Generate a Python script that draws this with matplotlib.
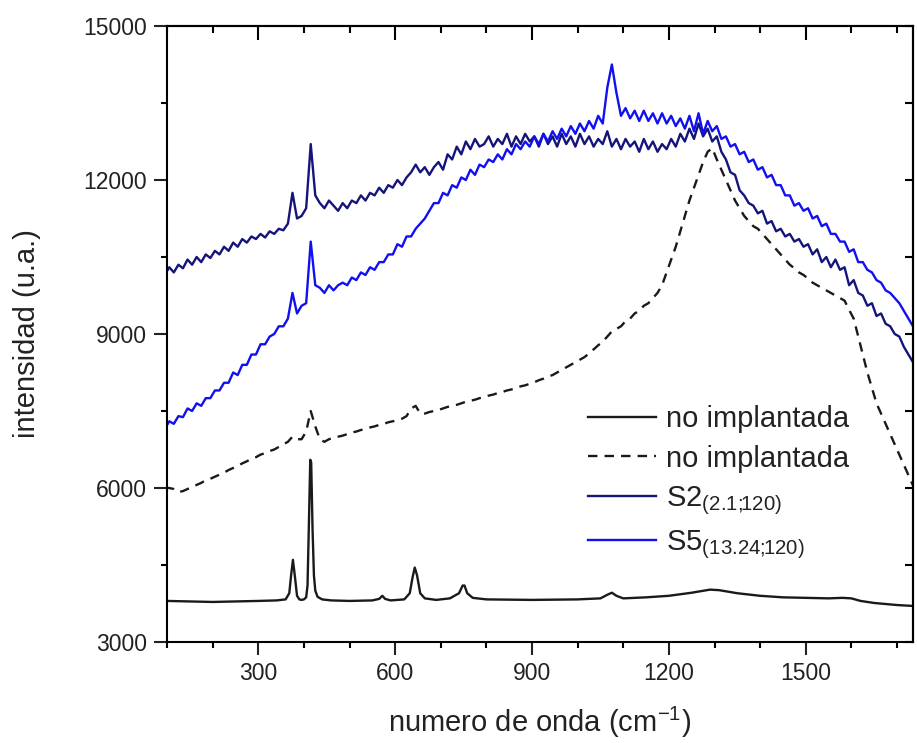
import numpy as np
import matplotlib
matplotlib.use("Agg")
import matplotlib.pyplot as plt
from matplotlib.ticker import MultipleLocator

plt.rcParams['font.family'] = ['Liberation Sans', 'DejaVu Sans']
plt.rcParams['mathtext.fontset'] = 'custom'
plt.rcParams['mathtext.rm'] = 'Liberation Sans'
plt.rcParams['mathtext.it'] = 'Liberation Sans'

# shared wavenumber grid for the noisy spectra (cm^-1)
wn = np.arange(95, 1746, 10)

s2 = [
    10150, 10300, 10200, 10350, 10280, 10450, 10350, 10500, 10400, 10550,
    10480, 10620, 10550, 10700, 10620, 10780, 10700, 10850, 10780, 10900,
    10850, 10950, 10880, 11000, 10950, 11050, 11020, 11150, 11750, 11250,
    11300, 11450, 12700, 11700, 11550, 11450, 11600, 11500, 11400, 11550,
    11450, 11600, 11550, 11700, 11600, 11750, 11700, 11850, 11750, 11900,
    11850, 12000, 11900, 12050, 12150, 12300, 12150, 12250, 12100, 12250,
    12350, 12200, 12500, 12400, 12650, 12500, 12750, 12600, 12800, 12650,
    12700, 12850, 12650, 12800, 12700, 12900, 12650, 12850, 12700, 12900,
    12750, 12850, 12650, 12900, 12700, 12850, 12650, 12900, 12700, 12850,
    12650, 12900, 12700, 12850, 12650, 12800, 12700, 12950, 12650, 12800,
    12600, 12800, 12650, 12750, 12550, 12800, 12600, 12750, 12550, 12700,
    12600, 12800, 12650, 12900, 12750, 13000, 12800, 13100, 12850, 13000,
    12750, 12850, 12550, 12400, 12150, 12100, 11800, 11700, 11550, 11500,
    11350, 11400, 11150, 11200, 11000, 11050, 10900, 10950, 10800, 10850,
    10700, 10750, 10550, 10650, 10400, 10500, 10300, 10450, 10250, 10300,
    9950, 10050, 9800, 9750, 9550, 9600, 9350, 9400, 9200, 9150,
    9000, 8950, 8750, 8600, 8450, 8350,
]

s5 = [
    7150, 7300, 7250, 7400, 7380, 7550, 7500, 7650, 7600, 7750,
    7750, 7900, 7900, 8050, 8050, 8250, 8200, 8400, 8400, 8600,
    8600, 8800, 8800, 8950, 9000, 9150, 9150, 9300, 9800, 9400,
    9550, 9600, 10800, 9950, 9900, 9800, 9950, 9850, 9950, 10000,
    9950, 10100, 10050, 10200, 10150, 10300, 10250, 10400, 10400, 10550,
    10550, 10750, 10700, 10900, 10900, 11050, 11150, 11250, 11400, 11550,
    11550, 11750, 11700, 11900, 11850, 12050, 12000, 12200, 12100, 12300,
    12250, 12400, 12350, 12500, 12400, 12600, 12500, 12700, 12600, 12750,
    12650, 12850, 12700, 12900, 12750, 12950, 12800, 13000, 12850, 13050,
    12900, 13100, 12950, 13150, 13000, 13250, 13100, 13800, 14250, 13700,
    13250, 13400, 13200, 13350, 13150, 13350, 13150, 13300, 13100, 13300,
    13100, 13250, 13050, 13200, 13000, 13250, 12950, 13300, 12900, 13150,
    12950, 13050, 12800, 12850, 12650, 12700, 12500, 12550, 12350, 12400,
    12200, 12250, 12050, 12100, 11900, 11900, 11700, 11700, 11500, 11550,
    11400, 11450, 11250, 11300, 11100, 11150, 10950, 10950, 10800, 10800,
    10600, 10650, 10400, 10400, 10250, 10200, 10050, 10000, 9850, 9800,
    9700, 9600, 9450, 9300, 9150, 9050,
]

ref_dashed = [
    6000, 6000, 5980, 5920, 5940, 5980, 6020, 6060, 6100, 6150,
    6180, 6220, 6260, 6300, 6350, 6390, 6430, 6480, 6520, 6570,
    6600, 6650, 6680, 6720, 6750, 6800, 6850, 6900, 7000, 6950,
    6950, 7100, 7500, 7200, 6950, 6900, 6950, 6980, 7000, 7020,
    7050, 7080, 7100, 7130, 7150, 7180, 7200, 7230, 7250, 7280,
    7300, 7320, 7350, 7400, 7550, 7600, 7450, 7450, 7480, 7500,
    7520, 7550, 7580, 7600, 7620, 7650, 7680, 7700, 7720, 7750,
    7770, 7800, 7820, 7850, 7870, 7900, 7920, 7950, 7980, 8000,
    8030, 8060, 8100, 8130, 8170, 8200, 8250, 8300, 8350, 8400,
    8450, 8500, 8550, 8620, 8700, 8780, 8850, 8950, 9050, 9100,
    9150, 9250, 9300, 9400, 9450, 9550, 9600, 9700, 9800, 9950,
    10200, 10450, 10700, 11000, 11300, 11600, 11850, 12100, 12350, 12550,
    12620, 12400, 12200, 12000, 11800, 11600, 11450, 11300, 11200, 11100,
    11050, 10950, 10850, 10750, 10650, 10550, 10450, 10350, 10280, 10200,
    10150, 10080, 10000, 9950, 9900, 9850, 9800, 9750, 9700, 9650,
    9470, 9300, 8950, 8600, 8250, 7950, 7650, 7450, 7250, 7050,
    6850, 6650, 6450, 6250, 6050, 5850,
]

ref_x = [100, 150, 200, 250, 300, 340, 360, 368, 372, 376, 380, 385, 390, 395,
         400, 405, 408, 411, 414, 416, 419, 422, 425, 430, 440, 460, 500, 550,
         565, 572, 578, 590, 620, 632, 638, 643, 648, 655, 665, 690, 720, 740,
         748, 752, 758, 770, 800, 900, 1000, 1050, 1065, 1075, 1085, 1100, 1150,
         1200, 1250, 1290, 1310, 1350, 1400, 1450, 1500, 1550, 1580, 1600, 1620,
         1650, 1700, 1740]
ref_y = [3800, 3790, 3780, 3790, 3800, 3810, 3830, 3950, 4300, 4600, 4300, 3900,
         3830, 3820, 3830, 3870, 4100, 5300, 6550, 6500, 5200, 4300, 4000, 3880,
         3830, 3810, 3800, 3810, 3840, 3900, 3840, 3810, 3830, 3950, 4250, 4450,
         4300, 3950, 3850, 3820, 3850, 3950, 4100, 4100, 3950, 3860, 3830, 3820,
         3830, 3850, 3920, 3960, 3900, 3850, 3870, 3900, 3960, 4020, 4010, 3950,
         3900, 3870, 3860, 3850, 3860, 3850, 3800, 3760, 3720, 3700]

labels = ['no implantada', 'no implantada',
          r'S2$_{(2.1;\!\!120)}$', r'S5$_{(13.24;\!\!120)}$']
colors = ['#1a1a1a', '#1a1a1a', '#14147a', '#1010f0']

fig = plt.figure(figsize=(9.17, 7.43), dpi=100)
ax = fig.add_axes([167/917, 1-642/743, (913-167)/917, (642-26)/743])

lw = 1.7
ax.plot(ref_x, ref_y, color=colors[0], lw=lw, label=labels[0])
ax.plot(wn, ref_dashed, color=colors[1], lw=lw, ls=(0, (4, 3)), label=labels[1])
ax.plot(wn, s2, color=colors[2], lw=lw, label=labels[2])
ax.plot(wn, s5, color=colors[3], lw=lw, label=labels[3])

ax.set_xlim(100, 1735)
ax.set_ylim(3000, 15000)
ax.xaxis.set_major_locator(MultipleLocator(300))
ax.xaxis.set_minor_locator(MultipleLocator(100))
ax.yaxis.set_major_locator(MultipleLocator(3000))
ax.yaxis.set_minor_locator(MultipleLocator(1500))
for s in ax.spines.values():
    s.set_linewidth(1.5)
ax.tick_params(which='major', direction='out', length=9.5, width=1.5,
               labelsize=16.5, pad=5, colors='#222222')
ax.tick_params(which='minor', direction='out', length=4.5, width=1.5)

top = ax.secondary_xaxis('top')
top.xaxis.set_major_locator(MultipleLocator(300))
top.xaxis.set_minor_locator(MultipleLocator(100))
top.tick_params(which='major', direction='in', length=10, width=1.5, labeltop=False)
top.tick_params(which='minor', direction='in', length=5, width=1.5)
top.spines['top'].set_linewidth(1.5)
right = ax.secondary_yaxis('right')
right.yaxis.set_major_locator(MultipleLocator(3000))
right.yaxis.set_minor_locator(MultipleLocator(1500))
right.tick_params(which='major', direction='in', length=6, width=1.5, labelright=False)
right.tick_params(which='minor', direction='in', length=6, width=1.5)
right.spines['right'].set_linewidth(1.5)

ax.set_xlabel(r'numero de onda (cm$^{\mathregular{-1}}$)', fontsize=21, labelpad=14, color='#222222')
ax.set_ylabel('intensidad (u.a.)', fontsize=21, labelpad=30, color='#222222')

leg = ax.legend(loc='upper left', bbox_to_anchor=(0.565, 0.385), frameon=False,
                fontsize=21, handlelength=2.3, handletextpad=0.35,
                labelspacing=0.4, borderpad=0, borderaxespad=0)
for t in leg.get_texts():
    t.set_color('#222222')

fig.savefig('out.png', dpi=100)
